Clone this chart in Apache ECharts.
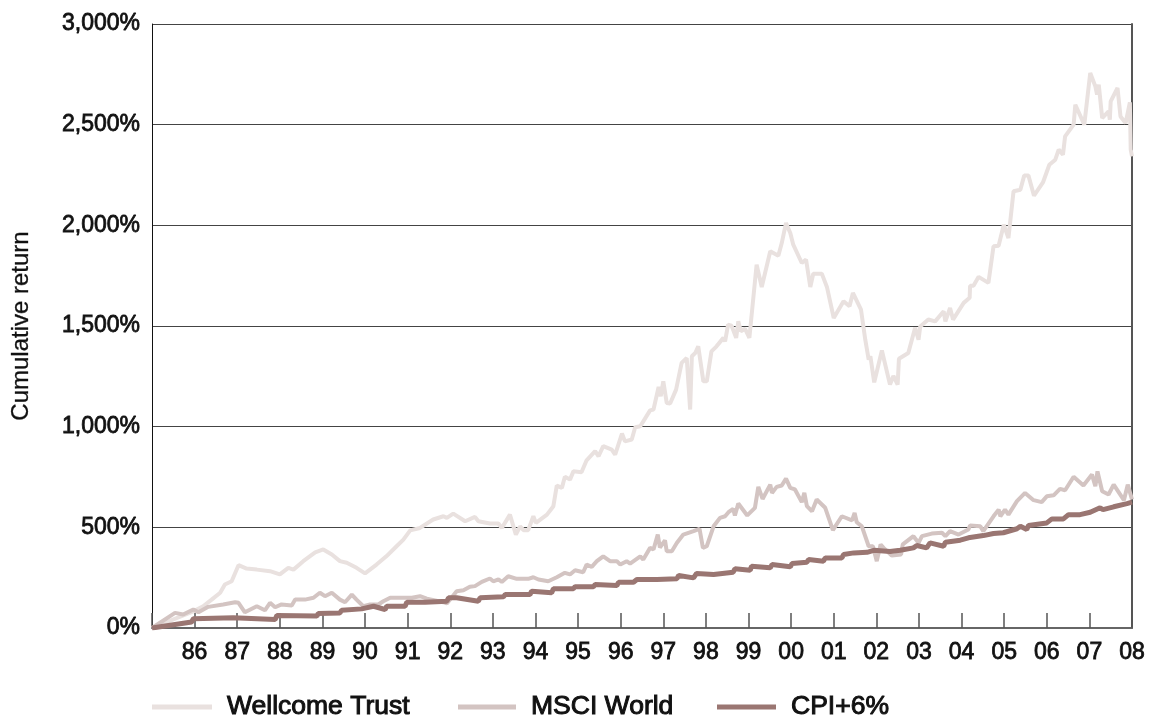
<!DOCTYPE html>
<html>
<head>
<meta charset="utf-8">
<script src="https://cdn.jsdelivr.net/npm/echarts@6/dist/echarts.min.js"></script>
<style>
html,body{margin:0;padding:0;background:#fff;}
#chart{width:1149px;height:718px;}
</style>
</head>
<body>
<div id="chart"></div>
<script>
var xTickLabels = ['', '86','87','88','89','90','91','92','93','94','95','96','97','98','99','00','01','02','03','04','05','06','07','08'];
var yTickLabels = ['0%','500%','1,000%','1,500%','2,000%','2,500%','3,000%'];
var seriesNames = ['Wellcome Trust','MSCI World','CPI+6%'];

var wellcomeData = [
[1985.0,0],[1985.97,83],[1986.2,108],[1986.4,141],[1986.6,175],[1986.71,216],[1986.87,232],[1987.03,312],[1987.22,295],[1987.46,290],[1987.77,282],[1988.0,266],[1988.2,299],[1988.32,290],[1988.55,332],[1988.83,376],[1989.02,390],[1989.22,365],[1989.41,332],[1989.57,324],[1989.8,299],[1990.0,271],[1990.27,315],[1990.5,356],[1990.74,406],[1990.9,439],[1991.06,485],[1991.29,497],[1991.6,539],[1991.84,555],[1991.92,547],[1992.07,568],[1992.35,530],[1992.58,552],[1992.66,530],[1992.93,519],[1993.13,519],[1993.21,497],[1993.4,563],[1993.54,464],[1993.64,505],[1993.72,486],[1993.83,486],[1993.95,555],[1994.01,522],[1994.27,563],[1994.42,605],[1994.5,707],[1994.62,696],[1994.69,751],[1994.81,737],[1994.89,778],[1995.08,774],[1995.2,833],[1995.4,878],[1995.48,853],[1995.59,903],[1995.79,886],[1995.87,861],[1996.03,966],[1996.1,927],[1996.26,936],[1996.34,997],[1996.46,1002],[1996.69,1081],[1996.77,1085],[1996.89,1197],[1996.94,1151],[1997.0,1225],[1997.08,1118],[1997.16,1115],[1997.3,1184],[1997.43,1317],[1997.55,1341],[1997.63,1085],[1997.67,1350],[1997.75,1366],[1997.82,1399],[1997.94,1225],[1998.02,1225],[1998.13,1374],[1998.25,1399],[1998.41,1441],[1998.45,1424],[1998.52,1507],[1998.6,1502],[1998.71,1441],[1998.76,1523],[1998.82,1474],[1998.92,1486],[1999.02,1441],[1999.19,1805],[1999.31,1694],[1999.51,1871],[1999.7,1849],[1999.78,1912],[1999.88,2012],[1999.98,1962],[2000.05,1904],[2000.25,1813],[2000.35,1830],[2000.45,1694],[2000.52,1760],[2000.72,1760],[2000.84,1694],[2001.0,1540],[2001.23,1623],[2001.37,1598],[2001.45,1664],[2001.64,1581],[2001.74,1432],[2001.82,1333],[2001.86,1350],[2001.95,1220],[2002.13,1378],[2002.32,1209],[2002.4,1252],[2002.5,1209],[2002.53,1337],[2002.75,1366],[2002.91,1491],[2002.99,1432],[2003.03,1498],[2003.22,1532],[2003.38,1523],[2003.58,1573],[2003.62,1523],[2003.73,1590],[2003.8,1532],[2004.05,1615],[2004.19,1640],[2004.2,1700],[2004.28,1700],[2004.4,1744],[2004.63,1714],[2004.75,1896],[2004.87,1899],[2004.99,2003],[2005.1,1937],[2005.22,2169],[2005.38,2177],[2005.47,2247],[2005.57,2247],[2005.7,2147],[2005.91,2213],[2006.06,2301],[2006.2,2326],[2006.28,2376],[2006.38,2351],[2006.43,2442],[2006.63,2500],[2006.67,2599],[2006.88,2500],[2007.02,2757],[2007.14,2690],[2007.18,2649],[2007.22,2699],[2007.25,2699],[2007.3,2533],[2007.45,2566],[2007.48,2525],[2007.5,2616],[2007.66,2682],[2007.73,2541],[2007.85,2508],[2007.95,2611],[2007.97,2376],[2008.0,2343]
];

var msciData = [
[1985.0,0],[1985.54,75],[1985.73,67],[1985.97,92],[1986.09,78],[1986.32,105],[1986.67,117],[1986.95,128],[1987.03,125],[1987.18,78],[1987.46,108],[1987.65,88],[1987.77,125],[1987.89,103],[1988.04,117],[1988.28,112],[1988.36,141],[1988.59,141],[1988.79,150],[1988.94,175],[1989.06,158],[1989.22,175],[1989.41,141],[1989.53,128],[1989.69,166],[1989.8,141],[1989.96,108],[1990.12,117],[1990.31,117],[1990.43,133],[1990.59,150],[1990.9,150],[1991.1,150],[1991.29,158],[1991.45,146],[1991.84,128],[1991.92,122],[1992.15,183],[1992.31,188],[1992.46,205],[1992.58,208],[1992.74,229],[1992.93,246],[1993.01,232],[1993.13,241],[1993.21,229],[1993.36,257],[1993.56,244],[1993.83,244],[1993.95,252],[1994.07,241],[1994.3,232],[1994.5,252],[1994.69,274],[1994.81,266],[1994.93,287],[1995.12,277],[1995.2,315],[1995.32,304],[1995.44,332],[1995.59,356],[1995.75,332],[1995.91,332],[1995.99,315],[1996.14,332],[1996.22,320],[1996.46,356],[1996.53,340],[1996.69,398],[1996.77,390],[1996.87,464],[1996.92,400],[1997.04,435],[1997.08,381],[1997.2,381],[1997.32,423],[1997.47,464],[1997.71,481],[1997.85,492],[1997.93,398],[1998.02,406],[1998.18,505],[1998.33,547],[1998.45,555],[1998.53,575],[1998.64,592],[1998.68,559],[1998.76,618],[1998.97,559],[1999.15,597],[1999.23,701],[1999.33,641],[1999.51,712],[1999.55,671],[1999.66,701],[1999.78,708],[1999.88,742],[1999.98,696],[2000.09,688],[2000.25,625],[2000.31,671],[2000.37,605],[2000.49,580],[2000.6,638],[2000.8,597],[2000.98,486],[2001.19,555],[2001.43,535],[2001.49,572],[2001.54,525],[2001.66,505],[2001.82,406],[2001.92,406],[2002.01,332],[2002.1,415],[2002.17,398],[2002.36,360],[2002.58,365],[2002.62,415],[2002.87,456],[2002.99,423],[2003.07,456],[2003.3,469],[2003.54,473],[2003.62,456],[2003.73,481],[2003.93,464],[2004.16,489],[2004.2,509],[2004.44,505],[2004.51,481],[2004.75,555],[2004.87,588],[2004.91,555],[2005.02,588],[2005.1,563],[2005.3,630],[2005.49,671],[2005.69,635],[2005.88,625],[2006.0,654],[2006.16,659],[2006.31,691],[2006.43,684],[2006.63,751],[2006.86,708],[2007.06,762],[2007.14,704],[2007.19,778],[2007.3,679],[2007.45,663],[2007.57,712],[2007.81,635],[2007.9,712],[2008.0,638]
];

var cpiData = [
[1985.0,0],[1985.93,30],[1985.97,46],[1986.91,51],[1986.95,59],[1987.89,42],[1987.93,62],[1988.87,59],[1988.9,72],[1989.41,75],[1989.45,88],[1989.92,95],[1990.2,108],[1990.47,92],[1990.51,108],[1990.94,108],[1990.98,128],[1991.41,128],[1991.92,133],[1991.96,150],[1992.15,150],[1992.66,133],[1992.7,150],[1993.25,155],[1993.29,166],[1993.87,166],[1993.91,183],[1994.38,175],[1994.42,195],[1994.89,195],[1994.93,205],[1995.36,205],[1995.4,216],[1995.91,211],[1995.95,227],[1996.3,227],[1996.38,241],[1996.85,241],[1996.89,249],[1997.32,245],[1997.36,261],[1997.71,249],[1997.78,271],[1998.18,266],[1998.64,277],[1998.68,294],[1999.04,287],[1999.07,307],[1999.51,299],[1999.55,315],[1999.98,304],[2000.02,320],[2000.37,327],[2000.41,340],[2000.76,332],[2000.8,348],[2001.19,348],[2001.23,365],[2001.47,373],[2001.78,376],[2001.94,386],[2002.32,380],[2002.56,386],[2002.87,398],[2002.95,410],[2003.18,398],[2003.26,423],[2003.58,406],[2003.62,426],[2003.97,436],[2004.16,448],[2004.2,456],[2004.51,459],[2004.75,469],[2004.98,473],[2005.3,493],[2005.38,505],[2005.53,489],[2005.57,509],[2006.0,522],[2006.12,542],[2006.39,542],[2006.51,563],[2006.78,563],[2007.02,575],[2007.25,597],[2007.32,588],[2007.57,602],[2007.88,618],[2008.0,625]
];

var FONT = "'Liberation Sans', Arial, Helvetica, sans-serif";
var colors = ['#e9e1df', '#d3c4c2', '#9a7672'];

function legendFor(i, left, w) {
  return {
    data: [seriesNames[i]], left: left, top: 693, orient: 'horizontal', padding: 0,
    icon: 'rect', itemWidth: w, itemHeight: 5, selectedMode: false,
    textStyle: { fontFamily: FONT, fontSize: 26.5, color: '#111', padding: [0,0,0,10],
                 textBorderColor: '#111', textBorderWidth: 1 }
  };
}

var chart = echarts.init(document.getElementById('chart'), null, {renderer: 'canvas'});
chart.setOption({
  animation: false,
  backgroundColor: '#fff',
  grid: { left: 152, right: 17, top: 24, bottom: 90, containLabel: false },
  legend: [ legendFor(0, 152, 60), legendFor(1, 458, 58), legendFor(2, 717, 59) ],
  xAxis: {
    type: 'value', min: 1985, max: 2008, interval: 1,
    axisLine: { show: true, lineStyle: { color: '#666', width: 2 } },
    axisTick: { show: true, inside: true, length: 15, lineStyle: { color: '#555', width: 1.5 } },
    splitLine: { show: false },
    axisLabel: {
      margin: 13, fontFamily: FONT, fontSize: 23, color: '#111',
      textBorderColor: '#111', textBorderWidth: 0.8,
      formatter: function (v) { return xTickLabels[Math.round(v - 1985)] || ''; }
    }
  },
  yAxis: [{
    type: 'value', min: 0, max: 3000, interval: 500,
    name: 'Cumulative return', nameLocation: 'middle', nameGap: 119,
    nameTextStyle: { fontFamily: FONT, fontSize: 24, color: '#111', textBorderColor: '#111', textBorderWidth: 0.3 },
    axisLine: { show: true, lineStyle: { color: '#111', width: 1 } },
    axisTick: { show: false },
    splitLine: { show: true, lineStyle: { color: '#444', width: 1 } },
    axisLabel: {
      margin: 12, fontFamily: FONT, fontSize: 23, color: '#111',
      textBorderColor: '#111', textBorderWidth: 0.8,
      formatter: function (v) { return yTickLabels[Math.round(v / 500)]; }
    }
  }, {
    type: 'value', min: 0, max: 3000, interval: 500, position: 'right',
    axisLine: { show: true, lineStyle: { color: '#555', width: 2 } },
    axisTick: { show: false }, axisLabel: { show: false }, splitLine: { show: false }
  }],
  series: [
    { name: seriesNames[0], type: 'line', data: wellcomeData, showSymbol: false, color: colors[0],
      lineStyle: { width: 4, color: colors[0] }, z: 2 },
    { name: seriesNames[1], type: 'line', data: msciData, showSymbol: false, color: colors[1],
      lineStyle: { width: 4, color: colors[1] }, z: 3 },
    { name: seriesNames[2], type: 'line', data: cpiData, showSymbol: false, color: colors[2],
      lineStyle: { width: 5, color: colors[2] }, z: 4 }
  ]
});
</script>
</body>
</html>
